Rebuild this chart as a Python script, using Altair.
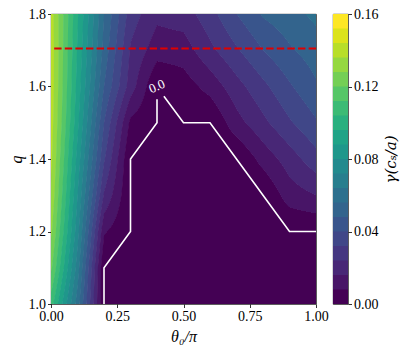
import numpy as np
import pandas as pd
import altair as alt

# ---------------- data ----------------
THETA = [0.0, 0.1, 0.2, 0.3, 0.4, 0.5, 0.6, 0.7, 0.8, 0.9, 1.0]
Q = [1.0, 1.1, 1.2, 1.3, 1.4, 1.5, 1.6, 1.7, 1.8]
# growth rate gamma(c_s/a) on the (q, theta0/pi) grid; rows follow Q, columns follow THETA
GAMMA = [
    [0.108, 0.060, 0.000, 0.000, 0.000, 0.000, 0.000, 0.000, 0.000, 0.000, 0.000],
    [0.122, 0.068, 0.000, 0.000, 0.000, 0.000, 0.000, 0.000, 0.000, 0.000, 0.000],
    [0.130, 0.075, 0.009, 0.000, 0.000, 0.000, 0.000, 0.000, 0.000, 0.000, 0.000],
    [0.135, 0.080, 0.023, 0.000, 0.000, 0.000, 0.000, 0.000, 0.000, 0.012, 0.016],
    [0.138, 0.085, 0.033, 0.000, 0.000, 0.000, 0.000, 0.000, 0.011, 0.020, 0.029],
    [0.140, 0.090, 0.040, 0.006, 0.000, 0.000, 0.000, 0.013, 0.022, 0.031, 0.039],
    [0.141, 0.093, 0.048, 0.020, 0.000, 0.004, 0.011, 0.021, 0.030, 0.039, 0.047],
    [0.141, 0.095, 0.053, 0.023, 0.0115, 0.012, 0.022, 0.031, 0.040, 0.047, 0.052],
    [0.140, 0.097, 0.056, 0.028, 0.018, 0.020, 0.029, 0.040, 0.049, 0.053, 0.058],
]
LEVELS = [0.000, 0.008, 0.016, 0.024, 0.032, 0.040, 0.048, 0.056, 0.064, 0.072, 0.080,
          0.088, 0.096, 0.104, 0.112, 0.120, 0.128, 0.136, 0.144, 0.152, 0.160]

# gamma = 0 contour (two pieces, split by the inline label)
ZERO_A_X = [0.2, 0.2, 0.3, 0.3, 0.3, 0.4, 0.4]
ZERO_A_Q = [1.0, 1.1, 1.2, 1.3, 1.4, 1.5, 1.565]
ZERO_B_X = [0.426, 0.5, 0.6, 0.7, 0.8, 0.9, 1.0]
ZERO_B_Q = [1.573, 1.5, 1.5, 1.4, 1.3, 1.2, 1.2]
LABEL_X, LABEL_Q, LABEL_TEXT = [0.40], [1.60], ["0.0"]
RED_Q = [1.705]

X_TICKS = [0.0, 0.25, 0.5, 0.75, 1.0]
Y_TICKS = [1.0, 1.1, 1.2, 1.3, 1.4, 1.5, 1.6, 1.7, 1.8]
CB_TICKS = [0.0, 0.04, 0.08, 0.12, 0.16]

# ---------------- filled-contour rendering ----------------
PLOT_W, PLOT_H = 265, 290
G = np.array(GAMMA)
th = np.array(THETA)
qq = np.array(Q)
lev = np.array(LEVELS)
nb = len(LEVELS) - 1


def band_of(z):
    b = int(np.searchsorted(lev, z, side="right") - 1)
    return min(max(b, 0), nb - 1)


edges = np.linspace(Q[0], Q[-1], PLOT_H + 1)
dq = edges[1] - edges[0]
dx_over = 0.35 * (THETA[-1] - THETA[0]) / PLOT_W
rows = []
for r in range(PLOT_H):
    lo, hi = edges[r], edges[r + 1]
    qc = 0.5 * (lo + hi)
    j = min(int(np.searchsorted(qq, qc, side="right") - 1), len(Q) - 2)
    t = (qc - qq[j]) / (qq[j + 1] - qq[j])
    zr = G[j] * (1 - t) + G[j + 1] * t
    pts = []
    for i in range(len(THETA) - 1):
        x0, x1, z0, z1 = th[i], th[i + 1], zr[i], zr[i + 1]
        pts.append(x0)
        if z1 != z0:
            for L in lev:
                s = (L - z0) / (z1 - z0)
                if 0 < s < 1:
                    pts.append(x0 + s * (x1 - x0))
    pts.append(th[-1])
    pts = sorted(pts)
    segs = []
    for a, b in zip(pts[:-1], pts[1:]):
        if b - a <= 1e-12:
            continue
        zm = float(np.interp(0.5 * (a + b), th, zr))
        bd = band_of(zm)
        if segs and segs[-1][2] == bd:
            segs[-1][1] = b
        else:
            segs.append([a, b, bd])
    top = hi + (0.5 * dq if r < PLOT_H - 1 else 0.0)
    for k, (a, b, bd) in enumerate(segs):
        b2 = b + (dx_over if k < len(segs) - 1 else 0.0)
        rows.append(dict(x=a, x2=b2, y=lo, y2=top, g=0.5 * (lev[bd] + lev[bd + 1])))
fill_df = pd.DataFrame(rows)

mids = [0.5 * (LEVELS[i] + LEVELS[i + 1]) for i in range(nb)]
cscale = alt.Scale(scheme="viridis", domain=[mids[0], mids[-1]])
xs = alt.Scale(domain=[0, 1], nice=False, zero=False)
ys = alt.Scale(domain=[1.0, 1.8], nice=False, zero=False)

FONT = "Liberation Serif"

heat = alt.Chart(fill_df).mark_rect().encode(
    x=alt.X("x:Q", scale=xs, axis=alt.Axis(values=X_TICKS, format=".2f", title="θ₀/π",
                                            titlePadding=5)),
    x2="x2",
    y=alt.Y("y:Q", scale=ys, axis=alt.Axis(values=Y_TICKS, format=".1f", title="q",
                                            titlePadding=4)),
    y2="y2",
    color=alt.Color("g:Q", scale=cscale, legend=None),
)

zero_df = pd.DataFrame({
    "x": ZERO_A_X + ZERO_B_X,
    "y": ZERO_A_Q + ZERO_B_Q,
    "piece": ["a"] * len(ZERO_A_X) + ["b"] * len(ZERO_B_X),
    "i": list(range(len(ZERO_A_X))) + list(range(len(ZERO_B_X))),
})
zero_line = alt.Chart(zero_df).mark_line(color="white", strokeWidth=1.6).encode(
    x=alt.X("x:Q", scale=xs), y=alt.Y("y:Q", scale=ys), detail="piece:N", order="i:Q"
)
label = alt.Chart(pd.DataFrame({"x": LABEL_X, "y": LABEL_Q, "t": LABEL_TEXT})).mark_text(
    color="white", font=FONT, fontSize=13, angle=336
).encode(x=alt.X("x:Q", scale=xs), y=alt.Y("y:Q", scale=ys), text="t:N")
red = alt.Chart(pd.DataFrame({"y": RED_Q})).mark_rule(
    color="#e00000", strokeWidth=2, strokeDash=[7.4, 3.2]
).encode(y=alt.Y("y:Q", scale=ys))

main = alt.layer(heat, zero_line, label, red).properties(width=PLOT_W, height=PLOT_H)

cb_lo = LEVELS[:-1]
cb_hi = [LEVELS[i + 1] + (0.0006 if i < nb - 1 else 0.0) for i in range(nb)]
cb_df = pd.DataFrame({"lo": cb_lo, "hi": cb_hi, "g": mids})
cbar = alt.Chart(cb_df).mark_rect().encode(
    y=alt.Y("lo:Q", scale=alt.Scale(domain=[0, 0.16], nice=False, zero=False),
            axis=alt.Axis(orient="right", values=CB_TICKS, format=".2f", title="γ(cₛ/a)",
                          titleAngle=270, titlePadding=20, titleFont="DejaVu Serif",
                          titleFontSize=15)),
    y2="hi",
    color=alt.Color("g:Q", scale=cscale, legend=None),
).properties(width=15, height=PLOT_H)

chart = alt.hconcat(main, cbar, spacing=17, bounds="flush").properties(
    autosize=alt.AutoSizeParams(type="none"),
    padding={"left": 43, "top": 6, "right": 350, "bottom": 331},
).configure_view(stroke="black", strokeWidth=0.8).configure_axis(
    labelFont=FONT, labelFontSize=14, labelColor="black", labelPadding=2, labelFlush=False,
    tickColor="black", tickSize=3.5, tickWidth=0.8, domain=False, grid=False,
    titleFont=FONT, titleFontSize=16, titleFontWeight="normal", titleColor="black",
    titleFontStyle="italic",
)

chart.save("out.html", embed_options={"renderer": "svg", "actions": False})
